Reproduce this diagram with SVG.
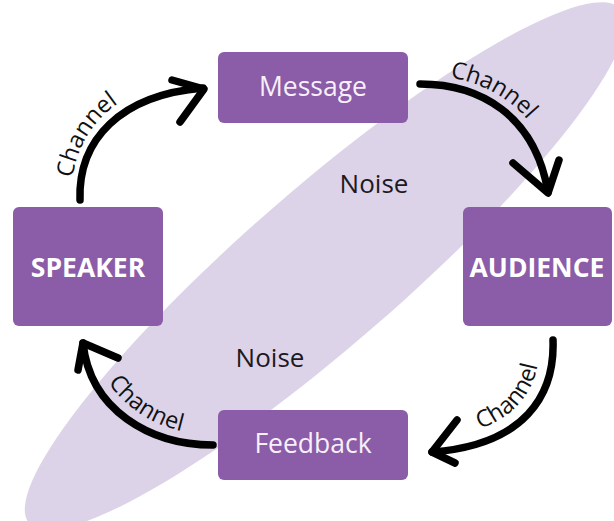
<svg xmlns="http://www.w3.org/2000/svg" width="614" height="521" viewBox="0 0 614 521">
  <defs>
    <style>
      .box { fill: #8b5ca7; }
      .label { fill: #f7f0fa; font-family: "Open Sans", "Noto Sans", sans-serif; font-size: 26.5px; text-anchor: middle; }
      .bold { font-weight: 700; font-size: 26.5px; fill: #ffffff; }
      .noise { fill: #1c1a1e; font-family: "Open Sans", "Noto Sans", sans-serif; font-size: 26px; }
      .chan { fill: #111111; font-family: "Open Sans", "Noto Sans", sans-serif; font-size: 23.5px; }
      .arrow { fill: none; stroke: #000000; stroke-width: 7.5; stroke-linecap: round; stroke-linejoin: round; }
    </style>
    <!-- baselines for the channel labels, running beside each arrow -->
    <path id="tp1" d="M71,202 C69,133 116,82 201,78"/>
    <path id="tp2" d="M420,75 C484,75 543,107 557,186"/>
    <path id="tp3" d="M432,439 C516,431 542,390 540,334"/>
    <path id="tp4" d="M93,339 C100,400 157,435 214,435"/>
  </defs>

  <!-- background noise field -->
  <ellipse cx="325" cy="266" rx="392" ry="78" fill="#ddd3e8" transform="rotate(-41 325 266)"/>

  <g id="noise-labels">
    <text class="noise" x="374" y="193" text-anchor="middle">Noise</text>
    <text class="noise" x="270" y="367" text-anchor="middle">Noise</text>
  </g>

  <g id="connectors">
    <!-- speaker to message -->
    <path class="arrow" d="M80,200 C78,140 120,95 203,88"/>
    <path class="arrow" d="M172,80 L204,89 L180,122"/>
    <text class="chan"><textPath href="#tp1" startOffset="24">Channel</textPath></text>
    <!-- message to audience -->
    <path class="arrow" d="M420,84 C480,84 535,115 548,192"/>
    <path class="arrow" d="M513,163 L548,193 L559,160"/>
    <text class="chan"><textPath href="#tp2" startOffset="30">Channel</textPath></text>
    <!-- audience to feedback -->
    <path class="arrow" d="M553,340 C555,395 525,445 432,452"/>
    <path class="arrow" d="M457,420 L432,452 L455,463"/>
    <text class="chan"><textPath href="#tp3" startOffset="49">Channel</textPath></text>
    <!-- feedback to speaker -->
    <path class="arrow" d="M213,445 C150,445 90,410 83,343"/>
    <path class="arrow" d="M78,370 L83,343 L118,358"/>
    <text class="chan"><textPath href="#tp4" startOffset="46">Channel</textPath></text>
  </g>

  <g id="message">
    <rect class="box" x="218" y="52" width="190" height="71" rx="6"/>
    <text class="label" x="313" y="96">Message</text>
  </g>
  <g id="speaker">
    <rect class="box" x="13" y="207" width="150" height="119" rx="6"/>
    <text class="label bold" x="88" y="277">SPEAKER</text>
  </g>
  <g id="audience">
    <rect class="box" x="463" y="207" width="149" height="119" rx="6"/>
    <text class="label bold" x="537" y="277">AUDIENCE</text>
  </g>
  <g id="feedback">
    <rect class="box" x="218" y="410" width="190" height="70" rx="6"/>
    <text class="label" x="313" y="453">Feedback</text>
  </g>
</svg>
